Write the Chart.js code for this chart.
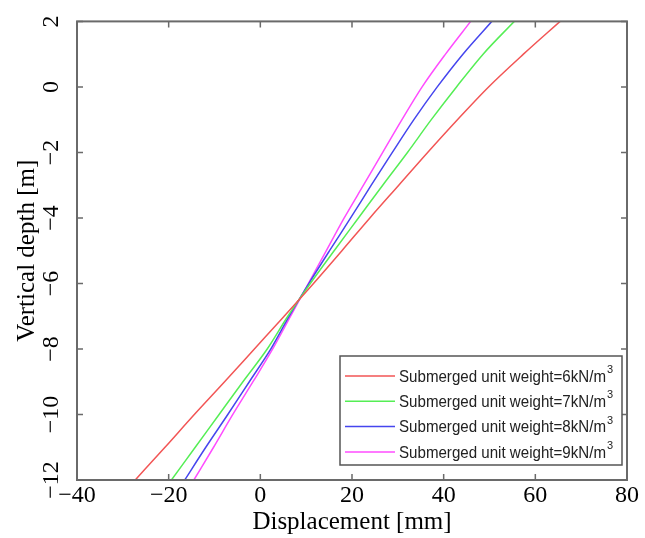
<!DOCTYPE html>
<html>
<head>
<meta charset="utf-8">
<script src="https://cdn.jsdelivr.net/npm/chart.js@4.4.1/dist/chart.umd.min.js"></script>
<style>
  html, body { margin: 0; padding: 0; background: #fff; }
  #wrap { width: 645px; height: 538px; position: relative; }
</style>
</head>
<body>
<div id="wrap"><canvas id="chart"></canvas></div>
<script>
// Depth levels [m] and displacement [mm] per submerged unit weight
const depths = [-12, -11, -10, -9, -8, -7, -6, -5, -4, -3, -2, -1, 0, 1, 2];
const disp6 = [-27.3, -20.8, -14.4, -7.8, -1.3, 5.2, 11.6, 17.8, 23.9, 30.2, 36.5, 43.0, 49.8, 57.4, 65.4];
const disp7 = [-19.4, -14.2, -9.0, -3.8, 1.5, 6.0, 10.9, 16.1, 21.4, 26.7, 32.1, 37.3, 42.8, 48.6, 55.4];
const disp8 = [-16.5, -11.9, -7.1, -2.4, 2.3, 6.3, 10.6, 15.1, 19.7, 24.2, 28.8, 33.5, 38.6, 44.2, 50.5];
const disp9 = [-14.5, -10.2, -6.0, -1.6, 2.7, 6.6, 10.5, 14.4, 18.3, 22.5, 26.7, 30.9, 35.3, 40.4, 45.9];

const seriesLabels = ['6kN/m', '7kN/m', '8kN/m', '9kN/m'];
const seriesColors = ['#f25555', '#55ee55', '#4646ee', '#ff4cff'];
const xTicks = [-40, -20, 0, 20, 40, 60, 80];
const yTicks = [-12, -10, -8, -6, -4, -2, 0, 2];

const serif = '"Liberation Serif", "Times New Roman", serif';
const fmt = v => (v < 0 ? '\u2212' + Math.abs(v) : String(v));

const datasets = [disp6, disp7, disp8, disp9].map((d, i) => ({
    label: 'Submerged unit weight=' + seriesLabels[i],
    data: d.map((v, j) => ({ x: v, y: depths[j] })),
    borderColor: seriesColors[i],
    backgroundColor: seriesColors[i],
    borderWidth: 1.5,
    pointRadius: 0,
    cubicInterpolationMode: 'monotone',
    fill: false
}));

// frame, inward ticks and boxed legend like the original figure
const framePlugin = {
    id: 'frame',
    afterDatasetsDraw(chart) {
        const { ctx, chartArea: a, scales: { x, y } } = chart;
        ctx.save();
        ctx.strokeStyle = '#6a6a6a';
        ctx.lineWidth = 2;
        ctx.strokeRect(a.left, a.top, a.right - a.left, a.bottom - a.top);
        ctx.lineWidth = 1.5;
        ctx.beginPath();
        xTicks.forEach(t => {
            const px = x.getPixelForValue(t);
            ctx.moveTo(px, a.bottom); ctx.lineTo(px, a.bottom - 6);
            ctx.moveTo(px, a.top); ctx.lineTo(px, a.top + 6);
        });
        yTicks.forEach(t => {
            const py = y.getPixelForValue(t);
            ctx.moveTo(a.left, py); ctx.lineTo(a.left + 6, py);
            ctx.moveTo(a.right, py); ctx.lineTo(a.right - 6, py);
        });
        ctx.stroke();

        // legend box
        const bw = 282, bh = 109;
        const bx = a.right - 5 - bw, by = a.bottom - 15 - bh;
        ctx.fillStyle = '#fff';
        ctx.fillRect(bx, by, bw, bh);
        ctx.strokeStyle = '#555';
        ctx.lineWidth = 1.5;
        ctx.strokeRect(bx, by, bw, bh);
        chart.data.datasets.forEach((ds, i) => {
            const ry = by + 20 + i * 25.3;
            ctx.strokeStyle = ds.borderColor;
            ctx.lineWidth = 1.5;
            ctx.beginPath();
            ctx.moveTo(bx + 5, ry); ctx.lineTo(bx + 55, ry);
            ctx.stroke();
            ctx.fillStyle = '#222';
            ctx.font = '17px "Liberation Sans", Arial, sans-serif';
            ctx.textBaseline = 'middle';
            ctx.textAlign = 'left';
            const w = ctx.measureText(ds.label).width;
            const sx = 207 / w;
            ctx.save();
            ctx.translate(bx + 59, ry + 1);
            ctx.scale(sx, 1);
            ctx.fillText(ds.label, 0, 0);
            ctx.restore();
            ctx.font = '11px "Liberation Sans", Arial, sans-serif';
            ctx.fillText('3', bx + 59 + 207 + 1, ry - 6);
        });
        ctx.restore();
    }
};

new Chart(document.getElementById('chart'), {
    type: 'line',
    data: { datasets: datasets },
    options: {
        responsive: true,
        maintainAspectRatio: false,
        animation: false,
        layout: { padding: { top: 15, right: 18, left: 0, bottom: 0 } },
        plugins: {
            legend: { display: false },
            tooltip: { enabled: false }
        },
        scales: {
            x: {
                type: 'linear',
                min: -40,
                max: 80,
                grid: { display: false, drawTicks: false },
                border: { display: false },
                afterBuildTicks: s => { s.ticks = xTicks.map(v => ({ value: v })); },
                afterFit: s => { s.height = 58; },
                ticks: {
                    color: '#000',
                    padding: 1,
                    maxRotation: 0,
                    font: { family: serif, size: 24 },
                    callback: fmt
                },
                title: {
                    display: true,
                    text: 'Displacement [mm]',
                    color: '#000',
                    padding: { top: 0, bottom: 1 },
                    font: { family: serif, size: 25 }
                }
            },
            y: {
                type: 'linear',
                min: -12,
                max: 2,
                grid: { display: false, drawTicks: false },
                border: { display: false },
                afterBuildTicks: s => { s.ticks = yTicks.map(v => ({ value: v })); },
                afterFit: s => { s.width = 77; },
                ticks: {
                    color: '#000',
                    padding: 7,
                    minRotation: 90,
                    maxRotation: 90,
                    crossAlign: 'center',
                    font: { family: serif, size: 24 },
                    callback: fmt
                },
                title: {
                    display: true,
                    text: 'Vertical depth [m]',
                    color: '#000',
                    padding: { top: 12, bottom: 0 },
                    font: { family: serif, size: 25 }
                }
            }
        }
    },
    plugins: [framePlugin]
});
</script>
</body>
</html>
